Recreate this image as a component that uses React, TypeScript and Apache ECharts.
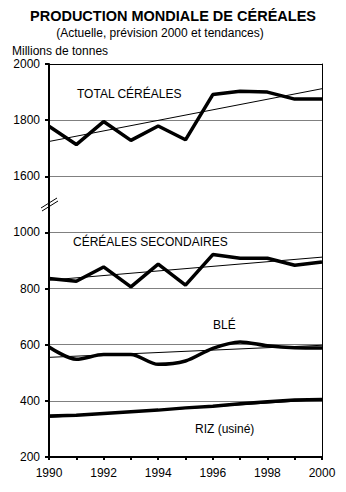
import React, { useEffect, useRef } from "react";
import * as echarts from "echarts";

const years = [1990, 1991, 1992, 1993, 1994, 1995, 1996, 1997, 1998, 1999, 2000];
const totalCereales = [1778, 1713, 1795, 1728, 1779, 1730, 1891, 1903, 1900, 1875, 1875];
const cerealesSecondaires = [836, 826, 877, 806, 887, 812, 921, 908, 908, 883, 895];
const ble = [592, 548, 565, 565, 530, 542, 587, 610, 596, 589, 588];
const riz = [346, 349, 355, 361, 367, 375, 381, 390, 397, 403, 405];

const trendYears = [1990, 2000];
const totalTrend = [1724, 1912];
const secTrend = [830, 912];
const bleTrend = [555, 598];
const rizTrend = [341, 405];

const yTicks = [200, 400, 600, 800, 1000, 1600, 1800, 2000];
const BREAK_SHIFT = 400; // values >= 1600 are drawn 400 lower (axis break between 1000 and 1600)

const FONT = "'Liberation Sans', Arial, sans-serif";

function compress(v: number) {
  return v >= 1400 ? v - BREAK_SHIFT : v;
}

export default function App() {
  const ref = useRef<HTMLDivElement>(null);
  useEffect(() => {
    document.body.style.margin = "0";
    const chart = echarts.init(ref.current!, null, { renderer: "svg" });
    const pair = (xs: number[], ys: number[], shift = false) =>
      xs.map((x, i) => [x, shift ? compress(ys[i]) : ys[i]]);
    const main = (name: string, data: number[][], smooth: number | boolean = false) => ({
      type: "line",
      name,
      data,
      symbol: "none",
      smooth,
      lineStyle: { color: "#000", width: 3.5 },
      z: 3,
    });
    const trend = (name: string, data: number[][]) => ({
      type: "line",
      name,
      data,
      symbol: "none",
      lineStyle: { color: "#000", width: 1 },
      z: 4,
    });
    const label = (text: string, x: number, y: number) => ({
      type: "text",
      left: x,
      top: y - 7,
      style: { text, font: `12px ${FONT}`, fill: "#000" },
    });
    chart.setOption({
      animation: false,
      backgroundColor: "#fff",
      textStyle: { fontFamily: FONT },
      title: [
        {
          text: "PRODUCTION MONDIALE DE CÉRÉALES",
          left: 173,
          textAlign: "center",
          top: 8,
          padding: 0,
          textStyle: { fontSize: 14.5, fontWeight: "bold", color: "#000", fontFamily: FONT },
        },
        {
          text: "(Actuelle, prévision 2000 et tendances)",
          left: 160,
          textAlign: "center",
          top: 27,
          padding: 0,
          textStyle: { fontSize: 12, fontWeight: "normal", color: "#000", fontFamily: FONT },
        },
        {
          text: "Millions de tonnes",
          left: 12,
          top: 45,
          padding: 0,
          textStyle: { fontSize: 12, lineHeight: 12, fontWeight: "normal", color: "#000", fontFamily: FONT },
        },
      ],
      grid: { left: 49, right: 24, top: 64, bottom: 35, containLabel: false },
      xAxis: [
        {
          type: "value",
          min: 1990,
          max: 2000,
          interval: 1,
          axisLine: { show: true, lineStyle: { color: "#000", width: 2 } },
          axisTick: { show: true, length: 3, lineStyle: { color: "#000", width: 2 } },
          axisLabel: {
            margin: 10,
            fontSize: 12,
            color: "#000",
            fontFamily: FONT,
            formatter: (v: number) => (v % 2 === 0 ? String(v) : ""),
          },
          splitLine: { show: false },
        },
        {
          type: "value",
          position: "top",
          min: 1990,
          max: 2000,
          axisLine: { show: true, onZero: false, lineStyle: { color: "#000", width: 1 } },
          axisTick: { show: false },
          axisLabel: { show: false },
          splitLine: { show: false },
        },
      ],
      yAxis: [
        {
          type: "value",
          min: 200,
          max: 1600,
          interval: 200,
          axisLine: { show: true, onZero: false, lineStyle: { color: "#000", width: 2 } },
          axisTick: { show: true, length: 4, lineStyle: { color: "#000", width: 2 } },
          axisLabel: {
            margin: 9,
            fontSize: 12,
            lineHeight: 12,
            color: "#000",
            fontFamily: FONT,
            formatter: (v: number) => {
              const real = v > 1000 ? v + BREAK_SHIFT : v;
              return yTicks.includes(real) ? String(real) : "";
            },
          },
          splitLine: { show: true, lineStyle: { color: "#808080", width: 1 } },
        },
        {
          type: "value",
          position: "right",
          min: 200,
          max: 1600,
          axisLine: { show: true, onZero: false, lineStyle: { color: "#000", width: 1 } },
          axisTick: { show: false },
          axisLabel: { show: false },
          splitLine: { show: false },
        },
      ],
      series: [
        main("TOTAL CÉRÉALES", pair(years, totalCereales, true)),
        main("CÉRÉALES SECONDAIRES", pair(years, cerealesSecondaires)),
        main("BLÉ", pair(years, ble), 0.3),
        main("RIZ (usiné)", pair(years, riz)),
        trend("Tendance total", pair(trendYears, totalTrend, true)),
        trend("Tendance secondaires", pair(trendYears, secTrend)),
        trend("Tendance blé", pair(trendYears, bleTrend)),
        trend("Tendance riz", pair(trendYears, rizTrend)),
      ],
      graphic: [
        label("TOTAL CÉRÉALES", 77, 95),
        label("CÉRÉALES SECONDAIRES", 73, 243),
        label("BLÉ", 213, 326),
        label("RIZ (usiné)", 195, 430),
        {
          type: "line",
          shape: { x1: 41, y1: 208, x2: 57, y2: 198 },
          style: { stroke: "#000", lineWidth: 1 },
          z: 100,
        },
        {
          type: "line",
          shape: { x1: 42, y1: 211, x2: 58, y2: 201 },
          style: { stroke: "#000", lineWidth: 1 },
          z: 100,
        },
      ],
    });
    return () => chart.dispose();
  }, []);
  return <div ref={ref} style={{ width: 346, height: 492 }} />;
}
